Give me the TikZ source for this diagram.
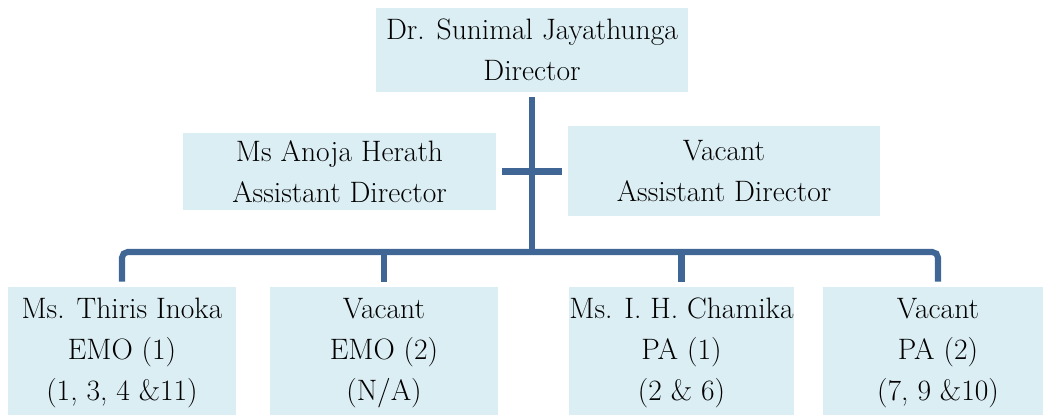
\documentclass[tikz,border=0pt]{standalone}
\usetikzlibrary{calc}
\definecolor{boxfill}{RGB}{219,238,244}
\definecolor{linkblue}{RGB}{64,102,150}
\tikzset{
  post/.style={rectangle, fill=boxfill, inner sep=0pt, align=center,
    font=\fontsize{21}{29.2}\selectfont},
  link/.style={draw=linkblue, line width=4.3pt},
}
\begin{document}
\begin{tikzpicture}[x=0.025cm,y=-0.025cm]
\clip (0,0) rectangle (1043,414);
% director
\node[post, minimum width=7.8cm, minimum height=2.1cm] (dir) at (532,50)
  {Dr. Sunimal Jayathunga\\Director};
% assistant directors
\node[post, minimum width=7.825cm, minimum height=1.925cm] (adl) at (339.5,171.5)
  {Ms Anoja Herath\\Assistant Director};
\node[post, minimum width=7.8cm, minimum height=2.25cm] (adr) at (724,171)
  {Vacant\\Assistant Director};
% officers
\node[post, minimum width=5.7cm, minimum height=3.3cm] (b1) at (122,353)
  {Ms. Thiris Inoka\\EMO (1)\\(1, 3, 4 \&11)};
\node[post, minimum width=5.7cm, minimum height=3.3cm] (b2) at (384,353)
  {Vacant\\EMO (2)\\(N/A)};
\node[post, minimum width=5.625cm, minimum height=3.3cm] (b3) at (681.5,353)
  {Ms. I. H. Chamika\\PA (1)\\(2 \& 6)};
\node[post, minimum width=5.75cm, minimum height=3.3cm] (b4) at (938,353)
  {Vacant\\PA (2)\\(7, 9 \&10)};
% connectors
\coordinate (hub) at (532,252);
\draw[link] ([yshift=-0.125cm]dir.south) -- (hub);
\draw[link] ([xshift=0.15cm]adl.east) -- ([xshift=-0.15cm]adr.west |- adl.east);
\draw[link, rounded corners=4pt] ([yshift=0.125cm]b1.north) -- (b1.north |- hub)
  -- (b4.north |- hub) -- ([yshift=0.125cm]b4.north);
\draw[link] ([yshift=0.125cm]b2.north) -- (b2.north |- hub);
\draw[link] ([yshift=0.125cm]b3.north) -- (b3.north |- hub);
\end{tikzpicture}
\end{document}
